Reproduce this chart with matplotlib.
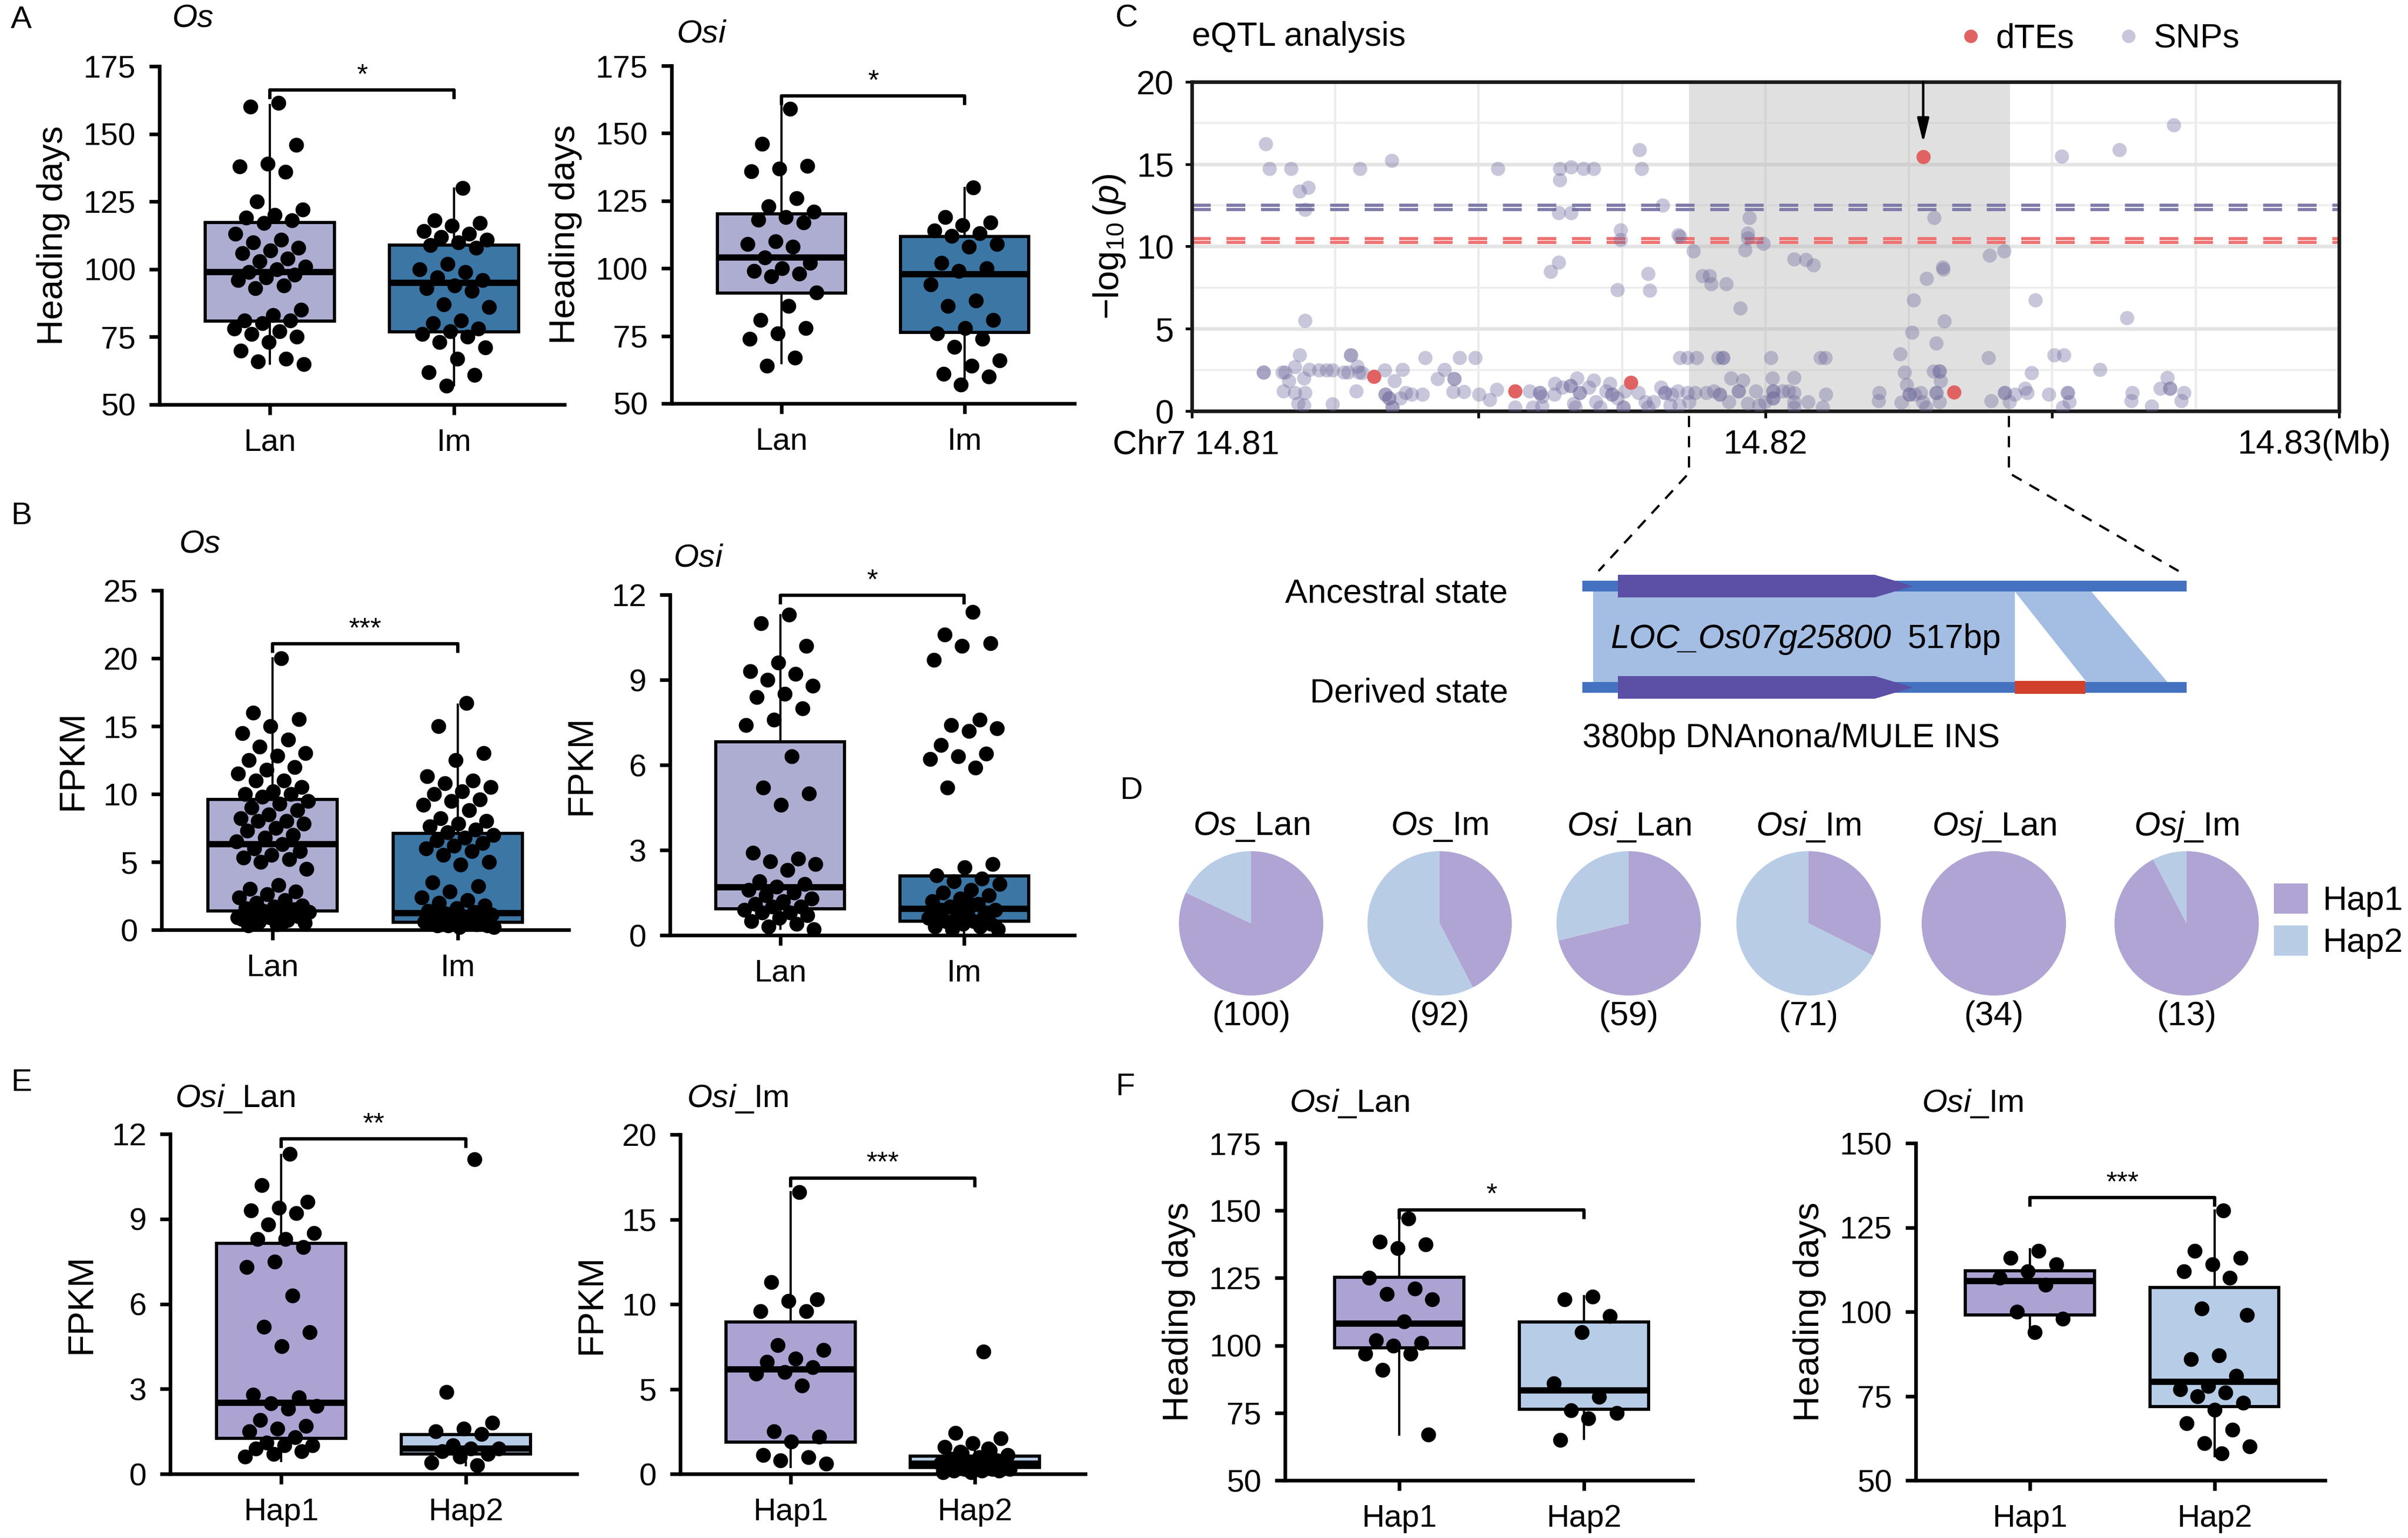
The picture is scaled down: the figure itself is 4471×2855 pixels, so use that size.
import numpy as np
import matplotlib
matplotlib.use('Agg')
import matplotlib.pyplot as plt
from matplotlib.patches import Polygon, Rectangle, Patch
from matplotlib.lines import Line2D
import matplotlib.transforms as mtrans

plt.rcParams['font.family'] = ['Liberation Sans', 'DejaVu Sans']
plt.rcParams['mathtext.fontset'] = 'custom'
plt.rcParams['mathtext.rm'] = 'Liberation Sans'
plt.rcParams['mathtext.it'] = 'Liberation Sans:italic'
plt.rcParams['mathtext.bf'] = 'Liberation Sans:bold'

# ---------------- data ----------------
# Panel A: heading days
A_os_lan = [161.5, 160, 146, 139, 138, 136, 125, 122, 120, 119, 118, 117, 113, 111, 110, 108, 107, 106,
            104, 103, 101, 100, 99, 98, 97, 96, 94, 93, 85, 83, 81, 81, 80, 78, 77, 76, 75, 73, 70, 67, 66, 65]
A_os_im = [130, 118, 117, 116, 114, 113, 112, 111, 110, 109, 108, 102, 100, 99, 97, 96, 94, 93, 92, 87, 86,
           81, 80, 78, 77, 76, 75, 73, 71, 67, 62, 61, 57]
A_osi_lan = [159, 146, 138, 137, 136, 126, 123, 121, 119, 118, 117, 110, 109, 108, 104, 102, 100, 99, 98, 97,
             91, 86, 81, 78, 76, 74, 67, 64]
A_osi_im = [130, 119, 117, 116, 114, 113, 112, 109, 108, 102, 100, 99, 94, 88, 86, 81, 78, 76, 74, 71, 66, 64,
            61, 60, 57]
# box stats (q1, median, q3, whisker low, whisker high)
A_os_stats = [(80.9, 98.9, 117.2, 65.2, 160.7), (76.9, 94.9, 108.9, 57.2, 129.8)]
A_osi_stats = [(90.9, 104.0, 120.1, 64.9, 161.5), (76.3, 97.8, 111.8, 56.9, 129.7)]

# Panel B: FPKM
B_os_lan = [20, 16, 15.5, 15, 14.5, 14, 13.5, 13, 12.8, 12.5, 12, 11.8, 11.5, 11, 11, 10.5, 10.2, 10, 10, 9.8,
            9.5, 9.3, 9, 8.8, 8.5, 8.2, 8, 8, 7.8, 7.5, 7.3, 7, 6.8, 6.5, 6.3, 6, 5.8, 5.5, 5.3, 5.2, 5, 4.5,
            3.3, 3, 2.8, 2.6, 2.4, 2.2, 2, 1.8, 1.7, 1.6, 1.5, 1.4, 1.3, 1.2, 1.1, 1.0, 0.9, 0.8, 0.7, 0.6,
            0.5, 0.4, 0.3, 1.5, 1.2, 0.9, 0.6, 1.0]
B_os_im = [16.7, 15, 13, 12.5, 11.3, 11, 10.8, 10.5, 10.2, 10, 9.6, 9.5, 9.2, 8.8, 8.2, 8, 7.8, 7.6, 7.4, 7.2,
           7, 6.8, 6.6, 6.4, 6.2, 6, 5.8, 5.5, 5, 4.8, 3.5, 3.2, 2.8, 2.4, 2.2, 2, 1.8, 1.6, 1.4, 1.3, 1.2,
           1.1, 1.0, 0.9, 0.8, 0.7, 0.6, 0.5, 0.4, 0.3, 0.2, 0.6, 0.4, 0.3, 0.2, 0.5, 0.3]
B_osi_lan = [11.3, 11.0, 10.2, 9.6, 9.3, 9.2, 9.0, 8.8, 8.5, 8.4, 8.0, 7.6, 7.4, 6.3, 5.2, 5.0, 4.6, 2.9, 2.7,
             2.6, 2.5, 2.3, 1.9, 1.8, 1.7, 1.6, 1.5, 1.4, 1.3, 1.2, 1.1, 1.0, 1.0, 0.9, 0.8, 0.8, 0.7, 0.6,
             0.5, 0.4, 0.3, 0.2]
B_osi_im = [11.4, 10.6, 10.3, 10.2, 9.7, 7.6, 7.4, 7.3, 7.2, 6.7, 6.4, 6.3, 6.2, 5.9, 5.2, 2.5, 2.4, 2.1, 2.0,
            1.9, 1.8, 1.6, 1.5, 1.4, 1.3, 1.2, 1.1, 1.0, 0.9, 0.8, 0.7, 0.7, 0.6, 0.6, 0.5, 0.5, 0.4, 0.4,
            0.3, 0.3, 0.2, 0.2, 1.1, 0.9, 0.6]
B_os_stats = [(1.37, 6.31, 9.62, 0.27, 20.0), (0.55, 1.25, 7.11, 0.16, 16.57)]
B_osi_stats = [(0.93, 1.69, 6.81, 0.22, 11.27), (0.49, 0.93, 2.09, 0.05, 2.5)]

# Panel E: FPKM by haplotype
E_lan_hap1 = [11.3, 10.2, 9.6, 9.4, 9.3, 9.2, 8.8, 8.5, 8.3, 8.3, 8.0, 7.5, 7.3, 6.3, 5.2, 5.0, 4.5, 2.8, 2.7,
              2.5, 2.4, 2.3, 1.9, 1.7, 1.6, 1.5, 1.3, 1.1, 1.0, 1.0, 0.9, 0.8, 0.7, 0.6]
E_lan_hap2 = [11.1, 2.9, 1.8, 1.6, 1.5, 1.4, 1.0, 0.9, 0.9, 0.8, 0.7, 0.6, 0.4, 0.3]
E_im_hap1 = [16.6, 11.3, 10.3, 10.2, 9.6, 9.6, 7.6, 7.3, 6.8, 6.6, 6.3, 6.0, 5.9, 5.2, 2.5, 2.2, 1.9, 1.1, 1.0,
             0.8, 0.6]
E_im_hap2 = [7.2, 2.4, 2.1, 1.8, 1.6, 1.4, 1.2, 1.1, 1.0, 0.9, 0.8, 0.7, 0.6, 0.6, 0.5, 0.5, 0.4, 0.4, 0.3,
             0.3, 0.3, 0.2, 0.2, 0.2, 0.1, 0.1, 1.5, 1.3, 0.9, 0.7, 0.5, 0.4]
E_lan_stats = [(1.25, 2.51, 8.14, 0.46, 11.26), (0.70, 0.90, 1.39, 0.3, 1.67)]
E_im_stats = [(1.87, 6.17, 8.96, 0.4, 16.6), (0.37, 0.59, 1.04, 0.04, 1.78)]

# Panel F: heading days by haplotype
F_lan_hap1 = [147, 138.5, 137.5, 136, 125, 121, 119, 117, 109, 102, 101, 100, 97, 97, 91, 67]
F_lan_hap2 = [118, 117, 111, 105, 86, 81, 76, 75, 73, 65]
F_im_hap1 = [118, 116, 114, 112, 110, 108, 100, 98, 94]
F_im_hap2 = [130, 118, 116, 114, 112, 110, 101, 99, 87, 86, 81, 78, 77, 76, 75, 73, 71, 67, 65, 61, 60, 58]
F_lan_stats = [(99.1, 108.2, 125.2, 67.0, 147.1), (76.3, 83.4, 108.8, 65.3, 118.3)]
F_im_stats = [(99.1, 109.1, 112.2, 94.1, 118.5), (71.9, 79.3, 107.2, 57.2, 130.0)]

# significance brackets (y value, label)
sig_A = [(166.2, '*'), (163.8, '*')]
sig_B = [(21.06, '***'), (11.98, '*')]
sig_E = [(11.83, '**'), (17.44, '***')]
sig_F = [(150.3, '*'), (133.9, '***')]

# Panel C: eQTL (position in kb from 14.81 Mb, -log10 p)
snp_points = [
    (1.29, 16.24), (1.35, 14.74), (1.73, 14.74), (1.88, 13.37), (2.03, 13.58), (1.97, 12.24), (2.93, 14.74),
    (3.48, 15.21), (5.33, 14.74), (6.41, 14.74), (6.41, 14.03), (6.61, 14.84), (6.83, 14.74), (7.0, 14.74),
    (6.39, 12.06), (6.61, 12.06), (7.8, 15.87), (7.84, 14.74), (8.21, 12.49), (7.47, 10.99), (7.47, 10.42),
    (8.48, 10.70), (8.51, 10.6), (6.39, 9.05), (9.72, 11.74), (9.69, 10.80), (9.69, 10.5), (9.96, 10.18),
    (8.74, 9.73), (9.64, 9.80), (10.5, 9.24), (10.7, 9.2), (10.84, 8.86), (12.94, 11.74), (13.09, 8.73),
    (13.91, 9.45), (14.16, 9.73), (15.16, 15.49), (16.17, 15.87), (17.12, 17.37),
    (1.97, 5.5), (1.88, 3.40), (2.77, 3.40), (2.77, 3.40), (1.25, 2.37), (1.25, 2.37), (1.58, 2.37),
    (1.62, 2.37), (1.79, 2.69), (1.69, 1.83), (1.95, 2.0), (2.05, 2.53), (2.22, 2.5), (2.35, 2.5),
    (2.45, 2.5), (2.65, 2.37), (2.72, 2.37), (2.88, 2.73), (2.91, 2.37), (2.97, 2.33), (1.6, 1.22),
    (1.79, 1.11), (1.97, 1.11), (1.85, 0.46), (1.95, 0.36), (2.45, 0.41), (2.86, 1.22), (3.36, 2.5),
    (3.67, 2.53), (3.53, 1.83), (4.07, 3.24), (4.67, 3.24), (4.94, 3.24), (4.40, 2.53), (4.28, 1.97),
    (4.57, 1.97), (4.57, 1.97), (3.37, 1.0), (3.37, 1.0), (3.44, 0.78), (3.44, 0.78), (3.49, 0.24),
    (3.49, 0.24), (3.63, 0.78), (3.73, 1.11), (3.83, 1.0), (4.02, 1.0), (4.55, 1.17), (4.74, 1.17),
    (5.0, 1.0), (5.19, 0.69), (5.31, 1.32), (5.63, 0.24), (5.89, 1.22), (6.07, 1.11), (6.07, 1.11),
    (6.1, 0.89), (5.94, 0.24), (6.1, 0.3), (6.32, 1.0), (6.33, 1.66), (6.46, 1.44), (6.6, 1.55),
    (6.6, 1.55), (6.71, 1.99), (6.76, 1.11), (6.76, 1.11), (6.66, 0.46), (6.69, 0.24), (6.92, 1.44),
    (7.0, 1.88), (7.04, 0.57), (7.12, 0.24), (7.22, 1.22), (7.29, 1.66), (7.32, 1.0), (7.32, 1.0),
    (7.42, 0.78), (7.52, 0.24), (7.52, 0.24), (7.55, 1.22), (7.78, 1.11), (7.91, 0.57), (7.95, 0.24),
    (8.05, 0.57), (8.18, 1.44), (8.24, 1.11), (8.24, 1.11), (8.37, 1.0), (8.47, 1.22), (8.34, 0.35),
    (8.5, 0.35), (8.64, 1.11), (8.67, 0.57), (8.77, 1.11), (8.51, 3.24), (8.64, 3.24), (8.8, 3.24),
    (9.17, 3.24), (9.26, 3.24), (9.26, 3.24), (10.09, 3.24), (9.4, 1.99), (9.61, 1.88), (8.97, 1.11),
    (9.1, 1.22), (9.2, 1.0), (9.2, 1.0), (9.36, 0.57), (9.53, 1.22), (9.53, 1.22), (9.69, 0.46),
    (9.83, 1.22), (9.89, 0.35), (10.12, 1.99), (9.99, 0.57), (6.25, 8.47), (7.95, 8.36), (7.42, 7.38),
    (7.98, 7.32), (8.9, 8.2), (9.02, 8.2), (9.05, 7.71), (9.31, 7.71), (9.56, 6.25),
    (10.5, 2.03), (10.96, 3.24), (11.04, 3.24), (10.13, 1.22), (10.13, 1.22), (10.3, 1.22), (10.4, 1.22),
    (10.5, 1.11), (10.13, 0.78), (10.13, 0.78), (10.5, 0.57), (10.74, 0.57), (10.5, 0.24), (11.0, 0.24),
    (11.05, 1.0), (11.98, 1.11), (11.97, 0.62), (12.35, 3.46), (12.42, 2.37), (12.46, 1.6), (12.37, 0.51),
    (12.51, 1.0), (12.51, 1.0), (12.6, 1.0), (12.7, 1.11), (12.74, 0.57), (12.8, 0.24), (12.55, 4.77),
    (12.98, 4.13), (13.12, 5.47), (12.58, 6.75), (12.81, 8.06), (13.1, 8.6), (12.93, 2.42), (13.03, 2.42),
    (13.03, 2.42), (13.05, 1.83), (12.98, 1.11), (12.98, 1.11), (13.03, 0.57), (13.89, 3.24), (13.93, 0.62),
    (14.17, 1.11), (14.17, 1.11), (14.25, 0.57), (14.35, 1.0), (14.53, 1.39), (14.56, 1.11), (14.64, 2.31),
    (14.7, 6.75), (14.94, 1.0), (15.03, 3.40), (15.2, 3.40), (15.27, 1.11), (15.27, 1.11), (15.3, 0.57),
    (15.18, 0.24), (15.83, 2.53), (16.3, 5.66), (16.39, 1.11), (16.38, 0.62), (16.73, 0.3), (16.88, 1.39),
    (17.0, 2.03), (17.05, 1.39), (17.05, 1.39), (17.3, 1.11), (17.25, 0.62)]
dte_points = [(3.17, 2.09), (5.63, 1.22), (7.65, 1.74), (12.75, 15.45), (13.29, 1.13)]
region_kb = (8.67, 14.26)
thr_snp = (12.24, 12.49)
thr_dte = (10.23, 10.48)
arrow_kb, arrow_top, arrow_tip = 12.75, 20.0, 16.3

# Panel D: haplotype counts
pie_groups = [('Os', '_Lan'), ('Os', '_Im'), ('Osi', '_Lan'), ('Osi', '_Im'), ('Osj', '_Lan'), ('Osj', '_Im')]
pie_hap1 = [82, 39, 42, 23, 34, 12]
pie_hap2 = [18, 53, 17, 48, 0, 1]

# ---------------- style ----------------
C_LAN = '#acadd1'
C_IM = '#3b76a5'
C_H1 = '#ada3d3'
C_H2 = '#b7cce6'
P_H1 = '#afa4d3'
P_H2 = '#b8cce6'

W, H = 4471, 2855
DPI = 300
fig = plt.figure(figsize=(W / DPI, H / DPI), dpi=DPI)


def rect(x0, top, x1, bottom):
    return [x0 / W, 1 - bottom / H, (x1 - x0) / W, (bottom - top) / H]


def box_panel(r, vals, stats, colors, ylim, yticks, ylabel, xlabels, sig, xlim=(-0.6, 1.6)):
    ax = fig.add_axes(r)
    st = [dict(q1=a, med=m, q3=b, whislo=lo, whishi=hi, fliers=[]) for (a, m, b, lo, hi) in stats]
    bx = ax.bxp(st, positions=[0, 1], widths=0.7, showfliers=False, showcaps=False, patch_artist=True,
                boxprops=dict(linewidth=1.4, edgecolor='black'),
                medianprops=dict(color='black', linewidth=2.8, solid_capstyle='butt'),
                whiskerprops=dict(color='black', linewidth=1.0), zorder=2)
    for p, c in zip(bx['boxes'], colors):
        p.set_facecolor(c)
    for i, v in enumerate(vals):
        n = len(v)
        offs = (((np.arange(n) + 1) * 0.6180339887) % 1 - 0.5) * 0.40
        ax.scatter(i + offs, v, s=44, color='black', zorder=3, clip_on=False, linewidths=0)
    ax.set_xlim(*xlim)
    ax.set_ylim(*ylim)
    ax.set_yticks(yticks)
    ax.set_xticks([0, 1])
    ax.set_xticklabels(xlabels)
    for s in ['top', 'right']:
        ax.spines[s].set_visible(False)
    for s in ['left', 'bottom']:
        ax.spines[s].set_linewidth(1.6)
    ax.tick_params(direction='out', length=4.5, width=1.6, labelsize=14, pad=6)
    ax.set_ylabel(ylabel, fontsize=16, labelpad=6)
    rng = ylim[1] - ylim[0]
    by, lab = sig
    ax.plot([0, 0, 1, 1], [by - 0.027 * rng, by, by, by - 0.027 * rng], color='black', lw=1.5,
            clip_on=False, zorder=4, solid_capstyle='butt')
    ax.annotate(lab, xy=(0.5, by), xytext=(0, 3), textcoords='offset points', ha='center',
                va='baseline', fontsize=12.5)
    return ax


box_panel(rect(296, 123, 1048, 751), [A_os_lan, A_os_im], A_os_stats, [C_LAN, C_IM], (50, 175),
          [50, 75, 100, 125, 150, 175], 'Heading days', ['Lan', 'Im'], sig_A[0])
box_panel(rect(1247, 122, 1995, 749), [A_osi_lan, A_osi_im], A_osi_stats, [C_LAN, C_IM], (50, 175),
          [50, 75, 100, 125, 150, 175], 'Heading days', ['Lan', 'Im'], sig_A[1])
box_panel(rect(300, 1096, 1056, 1726), [B_os_lan, B_os_im], B_os_stats, [C_LAN, C_IM], (0, 25),
          [0, 5, 10, 15, 20, 25], 'FPKM', ['Lan', 'Im'], sig_B[0])
box_panel(rect(1244, 1104, 1995, 1736), [B_osi_lan, B_osi_im], B_osi_stats, [C_LAN, C_IM], (0, 12),
          [0, 3, 6, 9, 12], 'FPKM', ['Lan', 'Im'], sig_B[1])
box_panel(rect(316, 2105, 1071, 2736), [E_lan_hap1, E_lan_hap2], E_lan_stats, [C_H1, C_H2], (0, 12),
          [0, 3, 6, 9, 12], 'FPKM', ['Hap1', 'Hap2'], sig_E[0])
box_panel(rect(1263, 2106, 2015, 2736), [E_im_hap1, E_im_hap2], E_im_stats, [C_H1, C_H2], (0, 20),
          [0, 5, 10, 15, 20], 'FPKM', ['Hap1', 'Hap2'], sig_E[1])
box_panel(rect(2386, 2122, 3143, 2748), [F_lan_hap1, F_lan_hap2], F_lan_stats, [C_H1, C_H2], (50, 175),
          [50, 75, 100, 125, 150, 175], 'Heading days', ['Hap1', 'Hap2'], sig_F[0], xlim=(-0.62, 1.59))
box_panel(rect(3557, 2122, 4317, 2748), [F_im_hap1, F_im_hap2], F_im_stats, [C_H1, C_H2], (50, 150),
          [50, 75, 100, 125, 150], 'Heading days', ['Hap1', 'Hap2'], sig_F[1], xlim=(-0.62, 1.6))

# ---------------- Panel C ----------------
axC = fig.add_axes(rect(2213, 152, 4343, 763))
axC.set_xlim(14.81, 14.83)
axC.set_ylim(0, 20)
for xv in np.arange(14.8125, 14.83, 0.0025):
    axC.axvline(xv, color='#ebebeb', lw=1.0, zorder=0)
for yv in [2.5, 7.5, 12.5, 17.5]:
    axC.axhline(yv, color='#eeeeee', lw=0.9, zorder=0)
for yv in [5, 10, 15]:
    axC.axhline(yv, color='#e4e4e4', lw=1.6, zorder=0)
axC.axvspan(14.81 + region_kb[0] / 1000, 14.81 + region_kb[1] / 1000, color='#b0b0b0', alpha=0.38,
            lw=0, zorder=1)
for yv in thr_snp:
    axC.axhline(yv, color='#7f7ba8', lw=1.4, dashes=(6, 5), zorder=2)
for yv in thr_dte:
    axC.axhline(yv, color='#ee7272', lw=1.4, dashes=(6, 5), zorder=2)
sx = [14.81 + p[0] / 1000 for p in snp_points]
sy = [p[1] for p in snp_points]
axC.scatter(sx, sy, s=40, color='#6f6b9e', alpha=0.38, linewidths=0, zorder=3)
dx = [14.81 + p[0] / 1000 for p in dte_points]
dy = [p[1] for p in dte_points]
axC.scatter(dx, dy, s=40, color='#e06262', linewidths=0, zorder=4)
axC.annotate('', xy=(14.81 + arrow_kb / 1000, arrow_tip), xytext=(14.81 + arrow_kb / 1000, arrow_top),
             arrowprops=dict(arrowstyle='-|>,head_length=0.9,head_width=0.22', color='black', lw=1.1,
                             shrinkA=0, shrinkB=0), zorder=5)
axC.set_yticks([0, 5, 10, 15, 20])
axC.set_xticks([14.81, 14.815, 14.82, 14.825, 14.83])
axC.set_xticklabels(['Chr7 14.81', '', '14.82', '', '14.83(Mb)'])
for s in axC.spines.values():
    s.set_linewidth(1.6)
    s.set_color('#1a1a1a')
axC.tick_params(direction='out', length=3, width=1.2, labelsize=15, pad=5)
axC.set_ylabel(r'$-\log_{10}(\it{p})$', fontsize=16, labelpad=4)
labs = axC.get_xticklabels()
labs[0].set_transform(labs[0].get_transform() + mtrans.ScaledTranslation(8 / DPI, 0, fig.dpi_scale_trans))
labs[-1].set_transform(labs[-1].get_transform() + mtrans.ScaledTranslation(-46 / DPI, 0, fig.dpi_scale_trans))
leg_h = [Line2D([], [], ls='none', marker='o', markersize=6, markerfacecolor='#e06262', markeredgewidth=0),
         Line2D([], [], ls='none', marker='o', markersize=6, markerfacecolor='#6f6b9e', alpha=0.38,
                markeredgewidth=0)]
fig.legend(leg_h, ['dTEs', 'SNPs'], loc='center left', bbox_to_anchor=(3640 / W, 1 - 72 / H), ncol=2,
           frameon=False, fontsize=15, handlelength=0.6, handletextpad=0.45, columnspacing=1.3,
           borderpad=0, borderaxespad=0)

# ---------------- Panel D: pies ----------------
pie_cx = [2323, 2673, 3024, 3358, 3702, 4060]
pie_cy, pie_r = 1714, 134
for cx, h1, h2 in zip(pie_cx, pie_hap1, pie_hap2):
    axp = fig.add_axes(rect(cx - pie_r, pie_cy - pie_r, cx + pie_r, pie_cy + pie_r))
    axp.pie([h1, h2], colors=[P_H1, P_H2], startangle=90, counterclock=False, radius=1,
            wedgeprops=dict(linewidth=0))
    axp.set_xlim(-1, 1)
    axp.set_ylim(-1, 1)
    axp.set_aspect('equal')
fig.legend([Patch(facecolor=P_H1, edgecolor='none'), Patch(facecolor=P_H2, edgecolor='none')],
           ['Hap1', 'Hap2'], loc='center left', bbox_to_anchor=(4222 / W, 1 - 1710 / H), frameon=False,
           fontsize=15, handlelength=1.0, handleheight=1.0, labelspacing=0.25, handletextpad=0.45,
           borderpad=0, borderaxespad=0)

# ---------------- overlay: labels and schematic ----------------
ov = fig.add_axes([0, 0, 1, 1], zorder=10)
ov.set_xlim(0, W)
ov.set_ylim(H, 0)
ov.axis('off')
ov.patch.set_alpha(0)

for lab, x, y in [('A', 20, 37), ('B', 20, 958), ('C', 2071, 34), ('D', 2079, 1468), ('E', 20, 2010),
                  ('F', 2071, 2018)]:
    ov.text(x, y, lab, fontsize=14, ha='left', va='center')

titles = [(319, 34, r'$\it{Os}$'), (1256, 63, r'$\it{Osi}$'), (332, 1010, r'$\it{Os}$'),
          (1250, 1036, r'$\it{Osi}$'), (325, 2039, r'$\it{Osi}$_Lan'), (1275, 2039, r'$\it{Osi}$_Im'),
          (2394, 2048, r'$\it{Osi}$_Lan'), (3568, 2048, r'$\it{Osi}$_Im')]
for x, y, t in titles:
    ov.text(x, y, t, fontsize=14.5, ha='left', va='center')

ov.text(2213, 69, 'eQTL analysis', fontsize=15, ha='left', va='center')

for cx, (g, s), h1, h2 in zip(pie_cx, pie_groups, pie_hap1, pie_hap2):
    ov.text(cx, 1534, r'$\it{%s}$%s' % (g, s), fontsize=15, ha='center', va='center')
    ov.text(cx, 1886, '(%d)' % (h1 + h2), fontsize=15, ha='center', va='center')

# zoom connectors
ov.plot([3136, 3136, 2968], [772, 878, 1060], color='black', lw=1.0, dashes=(5, 4))
ov.plot([3730, 3730, 4045], [772, 878, 1060], color='black', lw=1.0, dashes=(5, 4))

# gene schematic
ov.add_patch(Polygon([(2958, 1098), (3741, 1098), (3741, 1267), (2958, 1267)], closed=True,
                     facecolor='#a4bde3', edgecolor='none', zorder=1))
ov.add_patch(Polygon([(3741, 1098), (3883, 1098), (4025, 1267), (3875, 1267)], closed=True,
                     facecolor='#a4bde3', edgecolor='none', zorder=1))
for yc in [1088, 1276]:
    ov.add_patch(Rectangle((2938, yc - 10), 4060 - 2938, 20, facecolor='#4472c0', edgecolor='none', zorder=2))
    ov.add_patch(Polygon([(3004, yc - 21), (3481, yc - 21), (3552, yc), (3481, yc + 21), (3004, yc + 21)],
                         closed=True, facecolor='#5b4fa6', edgecolor='none', zorder=3))
ov.add_patch(Rectangle((3741, 1264), 131, 24, facecolor='#d0402b', edgecolor='none', zorder=4))
ov.text(2799, 1102, 'Ancestral state', fontsize=15, ha='right', va='center')
ov.text(2800, 1287, 'Derived state', fontsize=15, ha='right', va='center')
ov.text(2990, 1186, 'LOC_Os07g25800', fontsize=15, ha='left', va='center', style='italic', zorder=5)
ov.text(3541, 1186, '517bp', fontsize=15, ha='left', va='center', zorder=5)
ov.text(2938, 1370, '380bp DNAnona/MULE INS', fontsize=15, ha='left', va='center')

fig.savefig('out.png', dpi=DPI)
